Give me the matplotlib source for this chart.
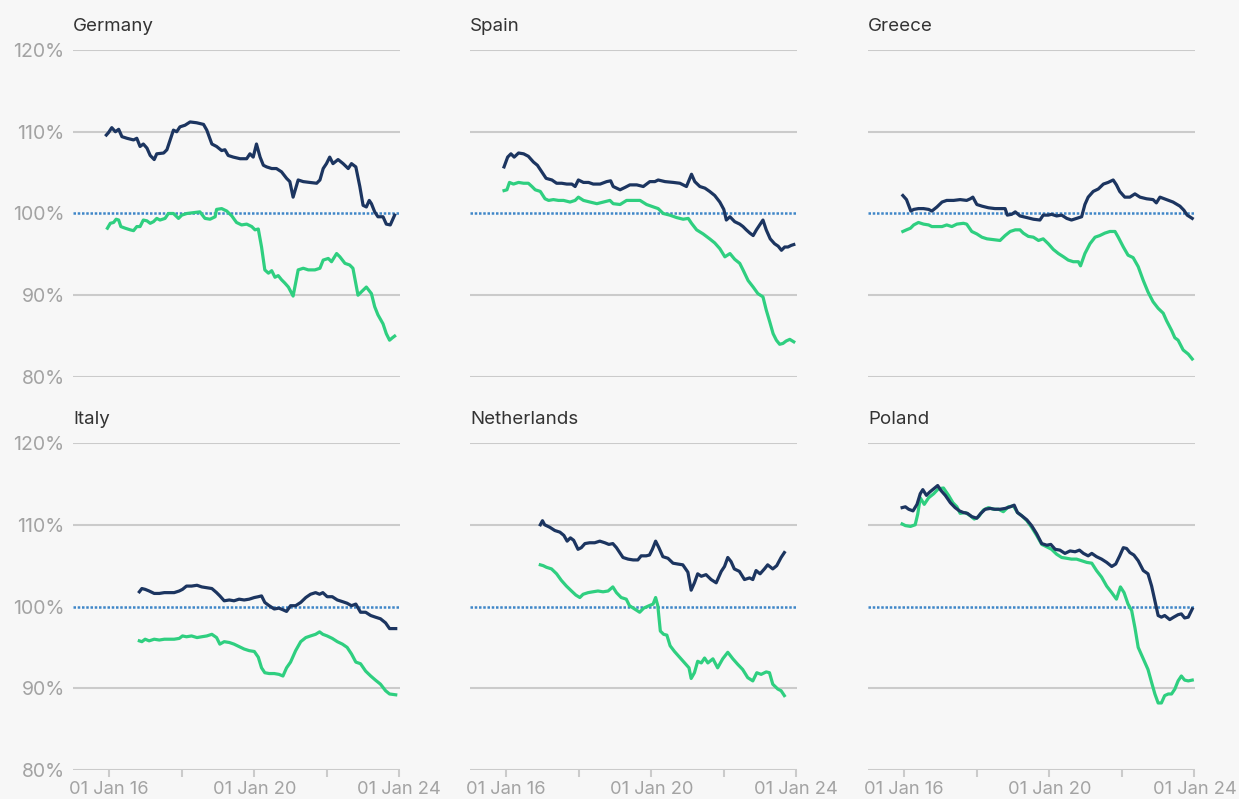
import matplotlib.pyplot as plt
from matplotlib.ticker import FixedLocator, FuncFormatter

plt.rcParams['font.family'] = ['Inter', 'DejaVu Sans']

NAVY = '#1c3560'
GREEN = '#2fcf80'
DOT = '#3f86c8'
GRID = '#cbcbcb'
BG = '#f7f7f7'

countries = ['Germany', 'Spain', 'Greece', 'Italy', 'Netherlands', 'Poland']

# --- Germany ---
de_navy_t = [2015.92, 2015.98, 2016.07, 2016.17, 2016.26, 2016.35, 2016.49, 2016.67, 2016.76, 2016.85,
             2016.94, 2017.04, 2017.13, 2017.24, 2017.31, 2017.50, 2017.59, 2017.68, 2017.77, 2017.86,
             2017.95, 2018.09, 2018.23, 2018.41, 2018.60, 2018.69, 2018.83, 2018.96, 2019.10, 2019.19,
             2019.28, 2019.42, 2019.61, 2019.79, 2019.88, 2019.97, 2020.06, 2020.16, 2020.25, 2020.34,
             2020.48, 2020.61, 2020.75, 2020.89, 2020.98, 2021.07, 2021.21, 2021.35, 2021.53, 2021.72,
             2021.81, 2021.90, 2021.99, 2022.08, 2022.17, 2022.31, 2022.45, 2022.59, 2022.68, 2022.80,
             2022.91, 2023.00, 2023.09, 2023.17, 2023.23, 2023.32, 2023.41, 2023.55, 2023.64, 2023.75,
             2023.87]
de_navy = [109.6, 109.9, 110.5, 110.0, 110.3, 109.4, 109.2, 109.0, 109.2, 108.2,
           108.5, 108.0, 107.1, 106.6, 107.3, 107.4, 107.8, 109.0, 110.2, 110.0,
           110.6, 110.8, 111.2, 111.1, 110.9, 110.2, 108.5, 108.2, 107.7, 107.8,
           107.1, 106.9, 106.7, 106.7, 107.3, 106.9, 108.5, 106.9, 105.9, 105.7,
           105.5, 105.5, 105.1, 104.3, 103.9, 102.0, 104.1, 103.9, 103.8, 103.7,
           104.1, 105.5, 106.1, 106.9, 106.1, 106.6, 106.1, 105.5, 106.1, 105.7,
           103.3, 101.0, 100.8, 101.6, 101.2, 100.2, 99.6, 99.6, 98.7, 98.6,
           99.8]
de_green_t = [2015.95, 2016.03, 2016.12, 2016.19, 2016.26, 2016.32, 2016.44, 2016.58, 2016.67, 2016.76,
              2016.85, 2016.94, 2017.04, 2017.13, 2017.22, 2017.31, 2017.40, 2017.54, 2017.63, 2017.77,
              2017.91, 2018.00, 2018.14, 2018.32, 2018.50, 2018.64, 2018.78, 2018.92, 2018.96, 2019.10,
              2019.24, 2019.38, 2019.51, 2019.65, 2019.79, 2019.93, 2020.02, 2020.11, 2020.20, 2020.29,
              2020.39, 2020.48, 2020.57, 2020.66, 2020.75, 2020.84, 2020.94, 2021.07, 2021.21, 2021.35,
              2021.49, 2021.67, 2021.81, 2021.90, 2022.04, 2022.13, 2022.27, 2022.36, 2022.50, 2022.63,
              2022.72, 2022.86, 2022.95, 2023.09, 2023.23, 2023.32, 2023.41, 2023.55, 2023.64, 2023.73,
              2023.81, 2023.87]
de_green = [98.2, 98.8, 98.9, 99.3, 99.2, 98.4, 98.2, 98.0, 97.9, 98.4,
            98.4, 99.2, 99.1, 98.8, 99.0, 99.4, 99.2, 99.4, 100.0, 100.0,
            99.4, 99.8, 100.0, 100.1, 100.2, 99.4, 99.3, 99.6, 100.5, 100.6,
            100.3, 99.7, 98.9, 98.6, 98.7, 98.4, 98.0, 98.1, 95.9, 93.1,
            92.7, 93.0, 92.2, 92.4, 91.9, 91.5, 91.0, 89.9, 93.1, 93.3,
            93.1, 93.1, 93.3, 94.3, 94.5, 94.1, 95.1, 94.7, 93.9, 93.7,
            93.3, 90.0, 90.4, 91.0, 90.2, 88.6, 87.6, 86.5, 85.3, 84.5,
            84.8, 85.0]

# --- Spain ---
es_navy_t = [2015.94, 2016.04, 2016.13, 2016.22, 2016.34, 2016.48, 2016.61, 2016.75, 2016.86, 2016.98,
             2017.10, 2017.26, 2017.39, 2017.53, 2017.67, 2017.81, 2017.90, 2017.99, 2018.13, 2018.27,
             2018.40, 2018.59, 2018.77, 2018.88, 2018.95, 2019.14, 2019.28, 2019.41, 2019.60, 2019.78,
             2019.96, 2020.10, 2020.19, 2020.38, 2020.61, 2020.79, 2020.97, 2021.11, 2021.20, 2021.34,
             2021.48, 2021.61, 2021.75, 2021.89, 2022.00, 2022.07, 2022.17, 2022.30, 2022.44, 2022.53,
             2022.62, 2022.72, 2022.81, 2022.90, 2022.99, 2023.08, 2023.17, 2023.28, 2023.40, 2023.50,
             2023.59, 2023.68, 2023.77, 2023.86, 2023.93]
es_navy = [105.7, 106.9, 107.3, 106.9, 107.4, 107.3, 107.0, 106.3, 105.9, 105.1,
           104.3, 104.1, 103.7, 103.7, 103.6, 103.6, 103.3, 104.1, 103.8, 103.8,
           103.6, 103.6, 103.9, 104.0, 103.3, 102.9, 103.2, 103.5, 103.5, 103.3,
           103.9, 103.9, 104.1, 103.9, 103.8, 103.7, 103.3, 104.8, 103.9, 103.3,
           103.1, 102.7, 102.2, 101.4, 100.5, 99.2, 99.6, 99.0, 98.7, 98.4,
           98.0, 97.6, 97.3, 98.0, 98.6, 99.2, 98.0, 96.9, 96.3, 96.0,
           95.5, 95.9, 95.9, 96.1, 96.2]
es_green_t = [2015.94, 2016.02, 2016.09, 2016.20, 2016.34, 2016.48, 2016.61, 2016.71, 2016.80, 2016.94,
              2017.07, 2017.17, 2017.30, 2017.44, 2017.58, 2017.76, 2017.90, 2017.99, 2018.13, 2018.31,
              2018.50, 2018.68, 2018.86, 2018.95, 2019.14, 2019.32, 2019.50, 2019.69, 2019.87, 2020.06,
              2020.19, 2020.33, 2020.51, 2020.70, 2020.88, 2021.02, 2021.11, 2021.25, 2021.43, 2021.61,
              2021.75, 2021.89, 2022.03, 2022.17, 2022.30, 2022.44, 2022.53, 2022.67, 2022.81, 2022.94,
              2023.08, 2023.17, 2023.27, 2023.36, 2023.45, 2023.54, 2023.63, 2023.72, 2023.82, 2023.93]
es_green = [102.8, 102.9, 103.8, 103.6, 103.8, 103.7, 103.7, 103.3, 102.9, 102.7,
            101.8, 101.6, 101.7, 101.6, 101.6, 101.4, 101.6, 102.0, 101.6, 101.4,
            101.2, 101.4, 101.6, 101.2, 101.1, 101.6, 101.6, 101.6, 101.1, 100.8,
            100.6, 100.0, 99.8, 99.5, 99.3, 99.4, 98.8, 98.0, 97.5, 96.9,
            96.4, 95.7, 94.7, 95.1, 94.4, 93.9, 93.1, 91.8, 91.0, 90.2,
            89.8, 88.2, 86.7, 85.3, 84.5, 84.0, 84.1, 84.4, 84.6, 84.3]

# --- Greece ---
gr_navy_t = [2015.96, 2016.06, 2016.12, 2016.18, 2016.26, 2016.39, 2016.53, 2016.67, 2016.76, 2016.90,
             2017.04, 2017.17, 2017.36, 2017.54, 2017.72, 2017.82, 2017.89, 2018.00, 2018.14, 2018.32,
             2018.50, 2018.64, 2018.78, 2018.84, 2018.96, 2019.06, 2019.19, 2019.38, 2019.56, 2019.74,
             2019.83, 2019.97, 2020.06, 2020.20, 2020.34, 2020.48, 2020.61, 2020.75, 2020.89, 2020.98,
             2021.07, 2021.21, 2021.35, 2021.49, 2021.62, 2021.76, 2021.85, 2021.94, 2022.08, 2022.22,
             2022.36, 2022.50, 2022.68, 2022.86, 2022.95, 2023.05, 2023.23, 2023.41, 2023.60, 2023.71,
             2023.80, 2023.94]
gr_navy = [102.2, 101.7, 101.0, 100.3, 100.5, 100.6, 100.6, 100.5, 100.3, 100.8,
           101.4, 101.6, 101.6, 101.7, 101.6, 101.8, 102.0, 101.1, 100.9, 100.7,
           100.6, 100.6, 100.6, 99.8, 99.9, 100.2, 99.7, 99.5, 99.3, 99.2,
           99.8, 99.8, 99.9, 99.7, 99.8, 99.4, 99.2, 99.4, 99.6, 101.1,
           102.0, 102.7, 103.0, 103.6, 103.8, 104.1, 103.5, 102.7, 102.0, 102.0,
           102.4, 102.0, 101.8, 101.7, 101.3, 102.0, 101.7, 101.4, 100.9, 100.4,
           99.8, 99.4]
gr_green_t = [2015.96, 2016.06, 2016.17, 2016.26, 2016.39, 2016.53, 2016.67, 2016.76, 2016.90, 2017.04,
              2017.17, 2017.31, 2017.45, 2017.63, 2017.72, 2017.86, 2018.00, 2018.14, 2018.28, 2018.46,
              2018.64, 2018.78, 2018.92, 2019.06, 2019.19, 2019.28, 2019.42, 2019.56, 2019.70, 2019.83,
              2019.97, 2020.11, 2020.25, 2020.39, 2020.52, 2020.66, 2020.80, 2020.86, 2020.98, 2021.12,
              2021.26, 2021.39, 2021.53, 2021.67, 2021.81, 2021.90, 2022.04, 2022.17, 2022.31, 2022.45,
              2022.59, 2022.72, 2022.86, 2023.00, 2023.14, 2023.23, 2023.37, 2023.46, 2023.55, 2023.69,
              2023.83, 2023.94]
gr_green = [97.8, 98.0, 98.2, 98.6, 98.9, 98.7, 98.6, 98.4, 98.4, 98.4,
            98.6, 98.4, 98.7, 98.8, 98.7, 97.8, 97.5, 97.1, 96.9, 96.8,
            96.7, 97.3, 97.8, 98.0, 98.0, 97.6, 97.2, 97.1, 96.7, 96.9,
            96.3, 95.6, 95.1, 94.7, 94.3, 94.1, 94.1, 93.6, 95.1, 96.3,
            97.1, 97.3, 97.6, 97.8, 97.8, 97.1, 95.9, 94.9, 94.6, 93.5,
            91.8, 90.4, 89.2, 88.4, 87.8, 86.9, 85.7, 84.8, 84.5, 83.3,
            82.8, 82.2]

# --- Italy (both series read at the same dates) ---
it_t = [2016.83, 2016.90, 2016.99, 2017.10, 2017.24, 2017.38, 2017.52, 2017.65, 2017.79, 2017.93,
        2018.02, 2018.13, 2018.27, 2018.42, 2018.55, 2018.69, 2018.83, 2018.96, 2019.05, 2019.17,
        2019.31, 2019.44, 2019.58, 2019.72, 2019.86, 2020.00, 2020.11, 2020.20, 2020.29, 2020.41,
        2020.55, 2020.68, 2020.79, 2020.89, 2021.00, 2021.14, 2021.28, 2021.42, 2021.55, 2021.69,
        2021.80, 2021.89, 2022.01, 2022.15, 2022.29, 2022.43, 2022.56, 2022.68, 2022.80, 2022.93,
        2023.07, 2023.21, 2023.34, 2023.48, 2023.62, 2023.73, 2023.90]
it_navy = [101.8, 102.2, 102.1, 101.9, 101.6, 101.6, 101.7, 101.7, 101.7, 101.9,
           102.1, 102.5, 102.5, 102.6, 102.4, 102.3, 102.2, 101.7, 101.3, 100.7,
           100.8, 100.7, 100.9, 100.8, 100.9, 101.1, 101.2, 101.3, 100.5, 100.1,
           99.7, 99.8, 99.6, 99.4, 100.1, 100.1, 100.5, 101.1, 101.5, 101.7,
           101.5, 101.7, 101.2, 101.2, 100.8, 100.6, 100.4, 100.1, 100.3, 99.3,
           99.3, 98.9, 98.7, 98.5, 98.0, 97.3, 97.3]
it_green = [95.8, 95.7, 96.0, 95.8, 96.0, 95.9, 96.0, 96.0, 96.0, 96.1,
            96.4, 96.3, 96.4, 96.2, 96.3, 96.4, 96.6, 96.2, 95.4, 95.7,
            95.6, 95.4, 95.1, 94.8, 94.6, 94.5, 93.8, 92.5, 91.9, 91.8,
            91.8, 91.7, 91.5, 92.5, 93.2, 94.6, 95.7, 96.2, 96.4, 96.6,
            96.9, 96.6, 96.4, 96.1, 95.7, 95.4, 95.0, 94.2, 93.2, 93.0,
            92.1, 91.5, 91.0, 90.5, 89.7, 89.3, 89.2]

# --- Netherlands ---
nl_navy_t = [2016.94, 2017.00, 2017.06, 2017.20, 2017.34, 2017.48, 2017.59, 2017.68, 2017.77, 2017.86,
             2017.98, 2018.07, 2018.17, 2018.30, 2018.44, 2018.58, 2018.72, 2018.83, 2018.94, 2019.04,
             2019.13, 2019.22, 2019.36, 2019.50, 2019.63, 2019.72, 2019.86, 2019.95, 2020.03, 2020.12,
             2020.21, 2020.32, 2020.46, 2020.60, 2020.73, 2020.87, 2021.01, 2021.10, 2021.19, 2021.28,
             2021.38, 2021.51, 2021.65, 2021.79, 2021.93, 2022.02, 2022.11, 2022.20, 2022.29, 2022.43,
             2022.57, 2022.71, 2022.80, 2022.89, 2023.00, 2023.12, 2023.21, 2023.35, 2023.46, 2023.58,
             2023.67]
nl_navy = [110.0, 110.5, 110.0, 109.7, 109.3, 109.1, 108.7, 108.0, 108.4, 108.1,
           107.0, 107.2, 107.7, 107.8, 107.8, 108.0, 107.8, 107.6, 107.7, 107.2,
           106.6, 106.0, 105.8, 105.7, 105.7, 106.2, 106.2, 106.3, 107.0, 108.0,
           107.2, 106.1, 105.9, 105.3, 105.2, 105.1, 104.2, 102.0, 102.9, 104.0,
           103.7, 103.9, 103.3, 102.9, 104.3, 104.9, 106.0, 105.5, 104.6, 104.3,
           103.3, 103.5, 103.3, 104.4, 104.0, 104.6, 105.1, 104.6, 105.0, 106.0,
           106.6]
nl_green_t = [2016.94, 2017.02, 2017.11, 2017.25, 2017.39, 2017.52, 2017.66, 2017.80, 2017.92, 2018.03,
              2018.12, 2018.26, 2018.39, 2018.53, 2018.67, 2018.81, 2018.94, 2019.04, 2019.17, 2019.31,
              2019.40, 2019.54, 2019.68, 2019.79, 2019.94, 2020.05, 2020.12, 2020.18, 2020.25, 2020.34,
              2020.43, 2020.52, 2020.64, 2020.78, 2020.92, 2021.04, 2021.10, 2021.19, 2021.28, 2021.38,
              2021.47, 2021.56, 2021.70, 2021.83, 2021.97, 2022.11, 2022.25, 2022.39, 2022.52, 2022.66,
              2022.80, 2022.91, 2023.03, 2023.17, 2023.26, 2023.35, 2023.49, 2023.58, 2023.67]
nl_green = [105.1, 105.0, 104.8, 104.6, 104.0, 103.2, 102.5, 101.9, 101.4, 101.1,
            101.5, 101.7, 101.8, 101.9, 101.8, 101.9, 102.4, 101.7, 101.1, 100.9,
            100.1, 99.7, 99.3, 99.8, 100.1, 100.3, 101.1, 100.1, 97.0, 96.6,
            96.5, 95.2, 94.5, 93.8, 93.1, 92.5, 91.2, 91.9, 93.3, 93.1,
            93.7, 93.1, 93.6, 92.5, 93.6, 94.4, 93.6, 92.9, 92.3, 91.3,
            90.9, 91.9, 91.7, 92.0, 91.9, 90.5, 89.9, 89.7, 89.1]

# --- Poland ---
pl_navy_t = [2015.94, 2016.03, 2016.12, 2016.24, 2016.35, 2016.44, 2016.51, 2016.61, 2016.70, 2016.81,
             2016.92, 2017.01, 2017.13, 2017.27, 2017.40, 2017.52, 2017.63, 2017.74, 2017.86, 2018.00,
             2018.11, 2018.23, 2018.37, 2018.50, 2018.64, 2018.78, 2018.92, 2019.03, 2019.12, 2019.24,
             2019.38, 2019.51, 2019.65, 2019.79, 2019.93, 2020.04, 2020.16, 2020.29, 2020.43, 2020.57,
             2020.71, 2020.83, 2020.94, 2021.07, 2021.17, 2021.30, 2021.44, 2021.58, 2021.72, 2021.83,
             2021.94, 2022.04, 2022.13, 2022.22, 2022.33, 2022.45, 2022.59, 2022.72, 2022.82, 2022.91,
             2023.00, 2023.09, 2023.18, 2023.32, 2023.43, 2023.55, 2023.64, 2023.73, 2023.83, 2023.94]
pl_navy = [112.1, 112.2, 111.9, 111.7, 112.5, 113.8, 114.3, 113.6, 114.0, 114.4,
           114.8, 114.2, 113.6, 112.7, 112.1, 111.7, 111.5, 111.4, 111.0, 110.8,
           111.4, 111.9, 112.0, 111.9, 111.9, 112.0, 112.2, 112.4, 111.5, 111.1,
           110.6, 109.9, 108.9, 107.7, 107.5, 107.6, 107.0, 106.9, 106.5, 106.8,
           106.7, 106.9, 106.5, 106.2, 106.5, 106.1, 105.8, 105.4, 104.9, 105.2,
           106.2, 107.2, 107.1, 106.6, 106.3, 105.6, 104.4, 104.0, 102.5, 100.7,
           98.9, 98.7, 98.9, 98.4, 98.7, 99.0, 99.1, 98.6, 98.7, 99.7]
pl_green_t = [2015.94, 2016.03, 2016.17, 2016.30, 2016.37, 2016.44, 2016.55, 2016.67, 2016.81, 2016.94,
              2017.08, 2017.22, 2017.34, 2017.45, 2017.54, 2017.68, 2017.82, 2017.93, 2018.05, 2018.18,
              2018.32, 2018.46, 2018.60, 2018.73, 2018.87, 2019.01, 2019.12, 2019.24, 2019.38, 2019.51,
              2019.65, 2019.79, 2019.93, 2020.06, 2020.20, 2020.34, 2020.48, 2020.61, 2020.75, 2020.89,
              2021.03, 2021.17, 2021.30, 2021.44, 2021.58, 2021.72, 2021.85, 2021.96, 2022.06, 2022.17,
              2022.27, 2022.36, 2022.45, 2022.59, 2022.72, 2022.82, 2022.91, 2023.00, 2023.09, 2023.18,
              2023.28, 2023.37, 2023.46, 2023.55, 2023.64, 2023.73, 2023.83, 2023.94]
pl_green = [110.1, 109.9, 109.8, 110.0, 111.3, 113.3, 112.5, 113.3, 113.8, 114.4,
            114.5, 113.6, 112.7, 112.2, 111.4, 111.5, 111.1, 110.7, 111.0, 111.8,
            112.1, 111.9, 111.9, 111.6, 112.2, 112.3, 111.5, 111.1, 110.5, 109.7,
            108.7, 107.6, 107.3, 107.0, 106.4, 106.0, 105.9, 105.8, 105.8, 105.6,
            105.4, 105.3, 104.4, 103.6, 102.5, 101.7, 100.9, 102.4, 101.7, 100.3,
            99.5, 97.4, 95.0, 93.6, 92.3, 90.7, 89.3, 88.2, 88.2, 89.1,
            89.3, 89.3, 89.9, 90.9, 91.5, 91.0, 90.9, 91.0]

series = {
    'Germany': (de_navy_t, de_navy, de_green_t, de_green),
    'Spain': (es_navy_t, es_navy, es_green_t, es_green),
    'Greece': (gr_navy_t, gr_navy, gr_green_t, gr_green),
    'Italy': (it_t, it_navy, it_t, it_green),
    'Netherlands': (nl_navy_t, nl_navy, nl_green_t, nl_green),
    'Poland': (pl_navy_t, pl_navy, pl_green_t, pl_green),
}

y_ticks = [80, 90, 100, 110, 120]
x_major = [2016, 2020, 2024]
x_minor = [2018, 2022]
x_labels = {2016: '01 Jan 16', 2020: '01 Jan 20', 2024: '01 Jan 24'}

fig = plt.figure(figsize=(12.39, 7.99), dpi=100, facecolor=BG)
lefts = [0.0589, 0.3793, 0.7006]
bottoms = [0.5282, 0.0363]
w, h = 0.264, 0.4092

for i, name in enumerate(countries):
    r, c = divmod(i, 3)
    ax = fig.add_axes([lefts[c], bottoms[r], w, h], facecolor=BG)
    nt, nv, gt, gv = series[name]
    for y in y_ticks:
        if y != 100:
            ax.axhline(y, color=GRID, lw=1.5, zorder=1)
    ax.axhline(100, color=DOT, lw=1.8, ls=(0, (1.0, 0.7)), zorder=2)
    ax.plot(gt, gv, color=GREEN, lw=2.3, zorder=3, solid_joinstyle='round')
    ax.plot(nt, nv, color=NAVY, lw=2.3, zorder=4, solid_joinstyle='round')
    ax.set_xlim(2015.0, 2024.02)
    ax.set_ylim(80, 120)
    for s in ax.spines.values():
        s.set_visible(False)
    ax.set_yticks(y_ticks)
    if c == 0:
        ax.yaxis.set_major_formatter(FuncFormatter(lambda v, p: f'{v:.0f}%'))
        ax.tick_params(axis='y', length=0, pad=6, labelsize=14, labelcolor='#a3a3a3')
    else:
        ax.tick_params(axis='y', length=0, labelleft=False)
    ax.xaxis.set_major_locator(FixedLocator(x_major))
    ax.xaxis.set_minor_locator(FixedLocator(x_minor))
    if r == 1:
        ax.xaxis.set_major_formatter(FuncFormatter(lambda v, p: x_labels.get(int(round(v)), '')))
        ax.tick_params(axis='x', which='both', length=5, width=1.5, color=GRID,
                       labelsize=13.2, labelcolor='#a3a3a3', pad=3)
    else:
        ax.tick_params(axis='x', which='both', length=0, labelbottom=False)
    ax.text(0, 1.045, name, transform=ax.transAxes, ha='left', va='bottom',
            fontsize=13.5, color='#333333')

fig.savefig('out.png', dpi=100, facecolor=BG)
